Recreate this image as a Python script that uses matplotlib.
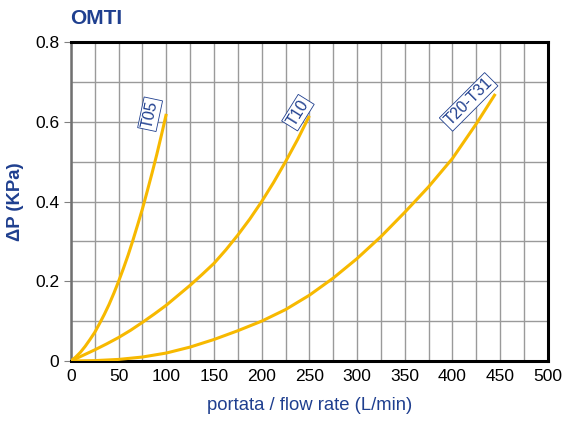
import matplotlib
matplotlib.use("Agg")
import matplotlib.pyplot as plt
from matplotlib.ticker import MultipleLocator

plt.rcParams["font.family"] = ["Liberation Sans", "DejaVu Sans"]

# values
t05_flow = [0, 5, 10, 15, 20, 25, 30, 35, 40, 45, 50, 55, 60, 65, 70, 75, 80, 85, 90, 95, 100]
t05_dp = [0, 0.010, 0.022, 0.037, 0.054, 0.072, 0.094, 0.117, 0.142, 0.170, 0.2,
          0.232, 0.266, 0.303, 0.342, 0.382, 0.426, 0.471, 0.518, 0.568, 0.62]

t10_flow = [0, 12.5, 25, 37.5, 50, 62.5, 75, 87.5, 100, 112.5, 125, 137.5, 150,
            162.5, 175, 187.5, 200, 212.5, 225, 237.5, 250]
t10_dp = [0, 0.014, 0.028, 0.043, 0.059, 0.077, 0.097, 0.118, 0.140, 0.165, 0.190,
          0.217, 0.245, 0.279, 0.316, 0.356, 0.400, 0.448, 0.500, 0.555, 0.615]

t20_flow = [0, 25, 50, 75, 100, 125, 150, 175, 200, 225, 250, 275, 300, 325, 350, 375, 400, 425, 445]
t20_dp = [0, 0.001, 0.004, 0.010, 0.020, 0.035, 0.054, 0.076, 0.100, 0.129, 0.165,
          0.208, 0.257, 0.312, 0.373, 0.437, 0.508, 0.595, 0.67]

curve_names = ["T05", "T10", "T20-T31"]
label_pos = [(83, 0.619, 78), (238, 0.623, 58), (417, 0.650, 45)]

blue = "#1f3f8f"
yellow = "#f7b900"

fig = plt.figure(figsize=(5.63, 4.21), dpi=100)
ax = fig.add_axes([0.126, 0.1425, 0.847, 0.7575])

for xs, ys in [(t05_flow, t05_dp), (t10_flow, t10_dp), (t20_flow, t20_dp)]:
    ax.plot(xs, ys, color=yellow, lw=2.2, solid_capstyle="butt", zorder=3)

# rotated boxed names next to the curve ends
for name, (lx, ly, rot) in zip(curve_names, label_pos):
    ax.text(lx, ly, name, rotation=rot, ha="center", va="center", fontsize=11.5,
            color=blue, zorder=4,
            bbox=dict(boxstyle="square,pad=0.12", fc="white", ec=blue, lw=0.6))

ax.set_xlim(0, 500)
ax.set_ylim(0, 0.8)
ax.xaxis.set_major_locator(MultipleLocator(50))
ax.xaxis.set_minor_locator(MultipleLocator(25))
ax.set_yticks([0, 0.2, 0.4, 0.6, 0.8])
ax.set_yticklabels(["0", "0.2", "0.4", "0.6", "0.8"])
ax.yaxis.set_minor_locator(MultipleLocator(0.1))
ax.grid(which="both", color="#9a9a9a", lw=1)
ax.set_axisbelow(True)

ax.tick_params(which="major", labelsize=12.5, length=5, color="#808080")
ax.tick_params(which="minor", length=0)
ax.tick_params(axis="x", length=0, pad=6)

for side in ["top", "right", "bottom"]:
    ax.spines[side].set_linewidth(2.2)
    ax.spines[side].set_color("black")
ax.spines["left"].set_linewidth(1.8)
ax.spines["left"].set_color("#707070")

ax.set_xlabel("portata / flow rate (L/min)", fontsize=13.3, color=blue, labelpad=9)
ax.set_ylabel("ΔP (KPa)", fontsize=13.3, color=blue, fontweight="bold", labelpad=8)
fig.text(0.124, 0.955, "OMTI", fontsize=15, fontweight="bold", color=blue, ha="left", va="center")

fig.savefig("out.png", dpi=100)
